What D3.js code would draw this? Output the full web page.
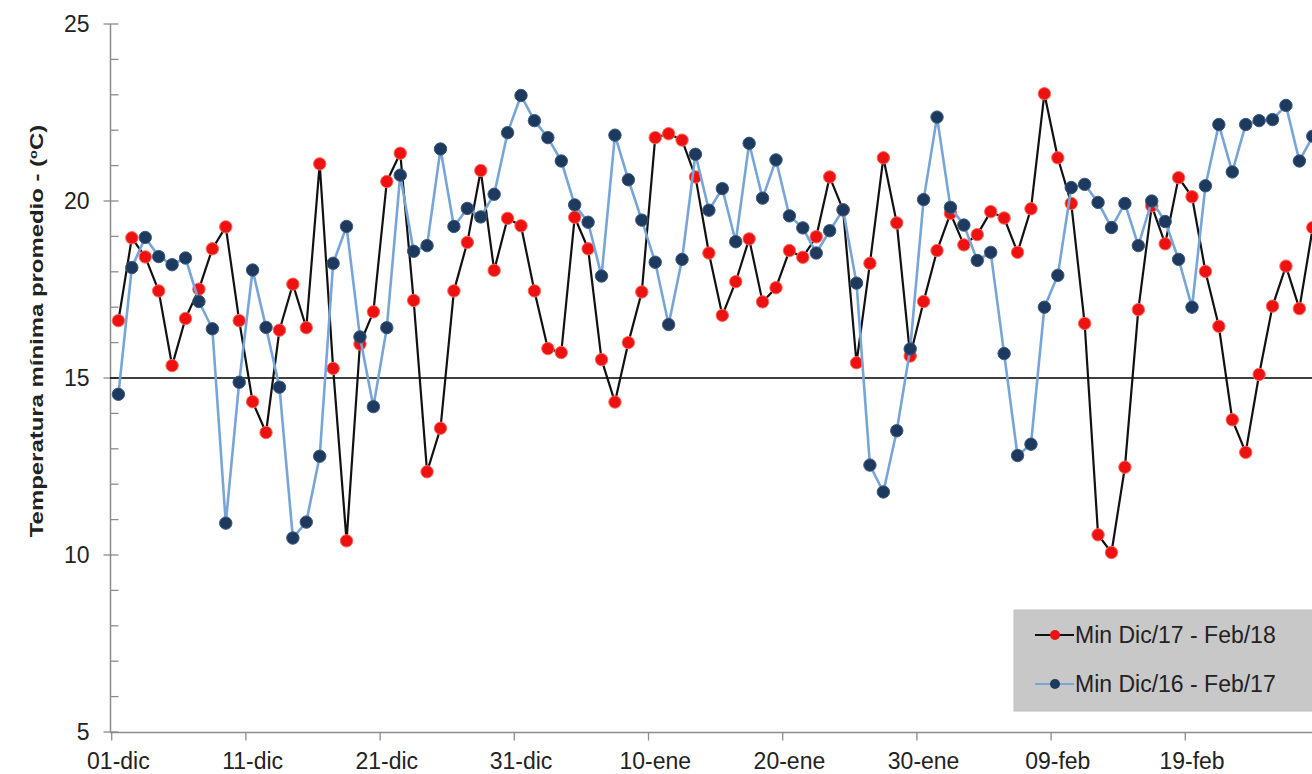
<!DOCTYPE html>
<html>
<head>
<meta charset="utf-8">
<script src="https://cdn.jsdelivr.net/npm/d3@7/dist/d3.min.js"></script>
<style>
  html, body { margin: 0; padding: 0; background: #fff; overflow: hidden; }
  svg { display: block; font-family: "Liberation Sans", Arial, sans-serif; }
</style>
</head>
<body>
<svg id="chart" width="1312" height="774"></svg>
<script>
// ---- Data ----
const startDate = "2017-12-01";
const seriesNames = ["Min Dic/17 - Feb/18", "Min Dic/16 - Feb/17"];
const min1718 = [
  16.62, 18.96, 18.42, 17.46, 15.35, 16.68, 17.51, 18.65, 19.27, 16.62,
  14.33, 13.46, 16.35, 17.65, 16.42, 21.05, 15.27, 10.40, 15.96, 16.87,
  20.55, 21.35, 17.19, 12.35, 13.58, 17.46, 18.83, 20.86, 18.04, 19.51,
  19.30, 17.46, 15.83, 15.72, 19.54, 18.65, 15.52, 14.32, 16.00, 17.43,
  21.79, 21.90, 21.72, 20.68, 18.53, 16.77, 17.72, 18.93, 17.15, 17.55,
  18.60, 18.41, 18.99, 20.68, 19.75, 15.43, 18.24, 21.22, 19.38, 15.62,
  17.16, 18.60, 19.65, 18.76, 19.05, 19.70, 19.52, 18.55, 19.78, 23.03,
  21.22, 19.93, 16.54, 10.57, 10.07, 12.48, 16.93, 19.86, 18.79, 20.66,
  20.12, 18.01, 16.46, 13.82, 12.90, 15.10, 17.03, 18.16, 16.96, 19.25
];
const min1617 = [
  14.54, 18.12, 18.97, 18.43, 18.20, 18.39, 17.16, 16.39, 10.90, 14.88,
  18.05, 16.43, 14.74, 10.48, 10.93, 12.79, 18.24, 19.28, 16.16, 14.19,
  16.42, 20.73, 18.58, 18.74, 21.47, 19.28, 19.79, 19.55, 20.19, 21.93,
  22.98, 22.27, 21.79, 21.13, 19.89, 19.40, 17.88, 21.86, 20.60, 19.46,
  18.27, 16.51, 18.35, 21.32, 19.74, 20.35, 18.85, 21.63, 20.08, 21.16,
  19.58, 19.24, 18.53, 19.16, 19.75, 17.68, 12.54, 11.78, 13.51, 15.82,
  20.04, 22.37, 19.82, 19.32, 18.32, 18.55, 15.69, 12.81, 13.13, 17.00,
  17.90, 20.38, 20.47, 19.96, 19.25, 19.93, 18.74, 20.00, 19.42, 18.35,
  17.00, 20.43, 22.16, 20.82, 22.16, 22.27, 22.30, 22.70, 21.13, 21.83
];
const tickDates = ["2017-12-01","2017-12-11","2017-12-21","2017-12-31","2018-01-10",
                   "2018-01-20","2018-01-30","2018-02-09","2018-02-19"];
const tickLabels = ["01-dic","11-dic","21-dic","31-dic","10-ene","20-ene","30-ene","09-feb","19-feb"];
const yTicks = [5, 10, 15, 20, 25];
const yTitle = "Temperatura mínima promedio - (";
const referenceValue = 15;

// ---- Layout ----
const svg = d3.select("#chart");
const parse = d3.timeParse("%Y-%m-%d");
const start = parse(startDate);
const dates = min1718.map((_, i) => d3.timeDay.offset(start, i));
const end = d3.timeDay.offset(start, 90);

const x = d3.scaleTime().domain([start, end]).range([111.7, 111.7 + 90 * 13.42]);
const y = d3.scaleLinear().domain([5, 25]).range([732, 24]);
const mid = d => d3.timeHour.offset(d, 12);

const axisColor = "#8c8c8c";
const textColor = "#222";

// Y axis
const yAxis = svg.append("g").attr("transform", "translate(110.5,0)");
yAxis.append("line").attr("y1", y(25)).attr("y2", y(5)).attr("stroke", axisColor).attr("stroke-width", 1.5);
yAxis.selectAll("line.minor").data(d3.range(5, 26, 1)).enter().append("line")
  .attr("class", "minor")
  .attr("x1", d => yTicks.includes(d) ? -7 : 0).attr("x2", 8)
  .attr("y1", d => y(d)).attr("y2", d => y(d))
  .attr("stroke", axisColor).attr("stroke-width", 1.3);
yAxis.selectAll("text").data(yTicks).enter().append("text")
  .attr("x", -21).attr("y", d => y(d)).attr("dy", "0.35em")
  .attr("text-anchor", "end").attr("font-size", 23).attr("fill", textColor)
  .text(d => d);

// X axis
const xAxis = svg.append("g").attr("transform", "translate(0,732.5)");
xAxis.append("line").attr("x1", 110).attr("x2", 1312).attr("stroke", axisColor).attr("stroke-width", 1.5);
xAxis.selectAll("line.t").data(tickDates).enter().append("line").attr("class", "t")
  .attr("x1", d => x(parse(d))).attr("x2", d => x(parse(d)))
  .attr("y1", 0).attr("y2", 8).attr("stroke", axisColor).attr("stroke-width", 1.3);
xAxis.selectAll("text").data(tickDates).enter().append("text")
  .attr("x", d => x(mid(parse(d)))).attr("y", 36)
  .attr("text-anchor", "middle").attr("font-size", 23).attr("fill", textColor)
  .text((d, i) => tickLabels[i]);

// Reference line at 15
svg.append("line").attr("x1", 110).attr("x2", 1312)
  .attr("y1", y(referenceValue)).attr("y2", y(referenceValue))
  .attr("stroke", "#000").attr("stroke-width", 1.3);

// Y title (stretched along its length like the reference)
const yt = svg.append("text")
  .attr("transform", `translate(43,331) rotate(-90) scale(1.33,1)`)
  .attr("text-anchor", "middle").attr("font-size", 18).attr("font-weight", "bold")
  .attr("fill", textColor);
yt.append("tspan").text(yTitle);
yt.append("tspan").attr("font-size", 11).attr("dy", "-0.55em").text("o");
yt.append("tspan").attr("dy", "0.35em").text("C)");

// Series
const line = d3.line().x((d, i) => x(mid(dates[i]))).y(d => y(d));
const plot = svg.append("g");

function drawSeries(vals, lineColor, lineWidth, dotColor, dotStroke) {
  plot.append("path").datum(vals).attr("d", line)
    .attr("fill", "none").attr("stroke", lineColor).attr("stroke-width", lineWidth)
    .attr("stroke-linejoin", "round");
  plot.append("g").selectAll("circle").data(vals).enter().append("circle")
    .attr("cx", (d, i) => x(mid(dates[i]))).attr("cy", d => y(d)).attr("r", 6.2)
    .attr("fill", dotColor).attr("stroke", dotStroke).attr("stroke-width", 1);
}
drawSeries(min1718, "#111", 2.2, "#ee1111", "#ff6a5a");
drawSeries(min1617, "#78a5d8", 2.6, "#1d3a5e", "#3a5a80");

// Legend
const lg = svg.append("g");
lg.append("rect").attr("x", 1014).attr("y", 610).attr("width", 320).attr("height", 101)
  .attr("fill", "#c8c8c8").attr("stroke", "#bdbdbd");
const legendItems = [
  { name: seriesNames[0], line: "#111", dot: "#ee1111", lw: 2 },
  { name: seriesNames[1], line: "#78a5d8", dot: "#1d3a5e", lw: 2 }
];
legendItems.forEach((it, i) => {
  const cy = 635 + i * 49;
  lg.append("line").attr("x1", 1035).attr("x2", 1074).attr("y1", cy).attr("y2", cy)
    .attr("stroke", it.line).attr("stroke-width", it.lw);
  lg.append("circle").attr("cx", 1055).attr("cy", cy).attr("r", 5).attr("fill", it.dot);
  lg.append("text").attr("x", 1075).attr("y", cy).attr("dy", "0.35em")
    .attr("font-size", 23).attr("fill", textColor).text(it.name);
});
</script>
</body>
</html>
